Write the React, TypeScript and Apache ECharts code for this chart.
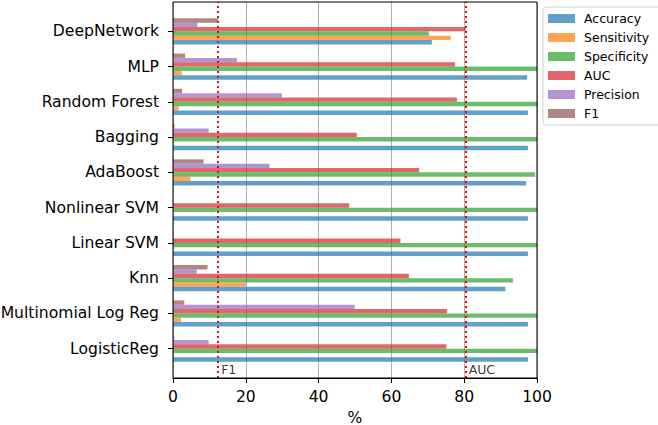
import React, { useEffect, useRef } from "react";
import * as echarts from "echarts";

const categories = [
  "LogisticReg",
  "Multinomial Log Reg",
  "Knn",
  "Linear SVM",
  "Nonlinear SVM",
  "AdaBoost",
  "Bagging",
  "Random Forest",
  "MLP",
  "DeepNetwork",
];

const accuracy = [97.5, 97.5, 91.3, 97.5, 97.5, 97.0, 97.5, 97.5, 97.3, 71.1];
const sensitivity = [0.2, 2.2, 20.0, 0, 0, 4.8, 0.2, 1.5, 2.4, 76.3];
const specificity = [100, 100, 93.4, 100, 100, 99.5, 100, 100, 100, 70.3];
const auc = [75.1, 75.3, 64.8, 62.5, 48.4, 67.6, 50.5, 78.0, 77.5, 80.4];
const precision = [9.8, 49.9, 6.5, 0, 0, 26.5, 9.8, 29.9, 17.6, 6.7];
const f1 = [0.3, 3.1, 9.5, 0, 0, 8.4, 0.4, 2.5, 3.3, 12.4];

const xTicks = [0, 20, 40, 60, 80, 100];
const f1Threshold = 12.4;
const aucThreshold = 80.4;

const seriesDefs = [
  { name: "Accuracy", data: accuracy, color: "#1f77b4" },
  { name: "Sensitivity", data: sensitivity, color: "#ff7f0e" },
  { name: "Specificity", data: specificity, color: "#2ca02c" },
  { name: "AUC", data: auc, color: "#d62728" },
  { name: "Precision", data: precision, color: "#9467bd" },
  { name: "F1", data: f1, color: "#8c564b" },
];

const FONT = "DejaVu Sans";
const TICK_FONT = 15.6;

export default function App() {
  const ref = useRef<HTMLDivElement>(null);
  useEffect(() => {
    if (!ref.current) return;
    const chart = echarts.init(ref.current, null, { renderer: "svg" });
    const option: any = {
      animation: false,
      textStyle: { fontFamily: FONT },
      grid: [
        { left: 173, top: 2, width: 364, height: 376, outerBoundsMode: "none", containLabel: false },
        { left: 173, top: 13.7, width: 364, height: 352.6, outerBoundsMode: "none", containLabel: false },
      ],
      graphic: [
        {
          type: "rect",
          shape: { x: 173, y: 2, width: 364, height: 376 },
          style: { fill: "none", stroke: "#000", lineWidth: 1 },
          z: 10,
          silent: true,
        },
      ],
      xAxis: [
        {
          type: "value",
          gridIndex: 0,
          min: xTicks[0],
          max: xTicks[xTicks.length - 1],
          interval: 20,
          axisLine: { show: true, lineStyle: { color: "#000", width: 1 } },
          axisTick: { show: true, length: 5, lineStyle: { color: "#000" } },
          axisLabel: { fontSize: TICK_FONT, color: "#000", margin: 11, fontFamily: FONT },
          splitLine: { show: true, lineStyle: { color: "#b0b0b0", width: 1 } },
          name: "%",
          nameLocation: "middle",
          nameGap: 29.5,
          nameTextStyle: { fontSize: TICK_FONT, color: "#000", fontFamily: FONT },
        },
        {
          type: "value",
          gridIndex: 1,
          min: 0,
          max: 100,
          show: false,
        },
      ],
      yAxis: [
        { type: "value", gridIndex: 0, min: 0, max: 1, show: false },
        {
          type: "category",
          gridIndex: 1,
          data: categories,
          axisLine: { show: false },
          axisTick: {
            show: true,
            alignWithLabel: true,
            length: 5,
            lineStyle: { color: "#000" },
          },
          axisLabel: { fontSize: TICK_FONT, color: "#000", margin: 14, fontFamily: FONT },
          splitLine: { show: false },
        },
      ],
      legend: {
        orient: "vertical",
        left: 543,
        top: 7,
        padding: [5, 30, 5, 5],
        itemWidth: 27,
        itemHeight: 9,
        itemGap: 6,
        borderColor: "#d0d0d0",
        borderWidth: 1,
        borderRadius: 3,
        backgroundColor: "#fff",
        textStyle: { fontSize: 12.5, color: "#000", fontFamily: FONT, padding: [0, 0, 0, 4] },
        data: seriesDefs.map((s) => ({ name: s.name, icon: "rect" })),
      },
      series: [
        ...seriesDefs
          .slice()
          .reverse()
          .map((s) => ({
            name: s.name,
            type: "bar",
            xAxisIndex: 1,
            yAxisIndex: 1,
            data: s.data,
            barGap: "0%",
            barCategoryGap: "26%",
            itemStyle: { color: s.color, opacity: 0.7 },
            emphasis: { disabled: true },
          })),
        {
          name: "thresholds",
          type: "scatter",
          xAxisIndex: 0,
          yAxisIndex: 0,
          symbolSize: 0,
          data: [
            { value: [f1Threshold, 0.0213], label: { formatter: "F1" } },
            { value: [aucThreshold, 0.0213], label: { formatter: "AUC" } },
          ],
          label: {
            show: true,
            position: "right",
            distance: 3,
            fontSize: 12.5,
            color: "#000",
            fontFamily: FONT,
          },
          markLine: {
            silent: true,
            symbol: ["none", "none"],
            label: { show: false },
            data: [
              { xAxis: f1Threshold, lineStyle: { color: "#b22222", width: 2, type: [2, 3] } },
              { xAxis: aucThreshold, lineStyle: { color: "#ff0000", width: 2, type: [2, 3] } },
            ],
          },
          z: 5,
        },
      ],
    };
    chart.setOption(option);
    return () => chart.dispose();
  }, []);
  return (
    <div
      ref={ref}
      style={{ position: "absolute", left: 0, top: 0, width: 658, height: 425 }}
    />
  );
}
